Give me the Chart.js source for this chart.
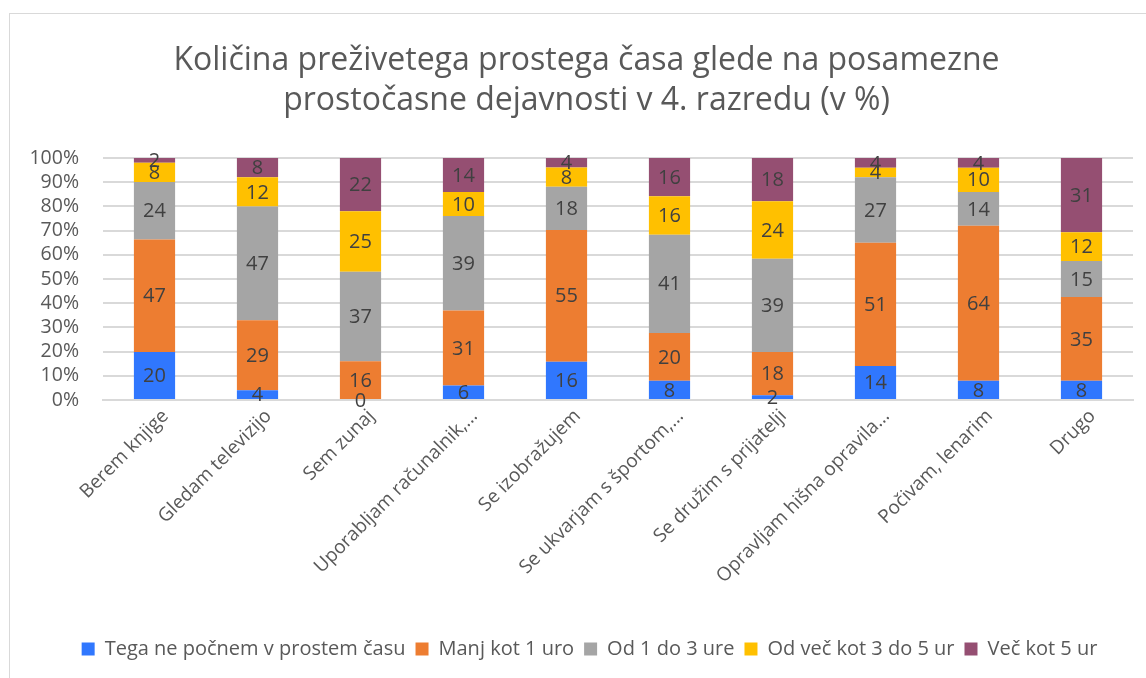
<!DOCTYPE html>
<html>
<head>
<meta charset="utf-8">
<script src="https://cdn.jsdelivr.net/npm/chart.js@4"></script>
<style>
    html, body { margin: 0; padding: 0; background: #fff; overflow: hidden; }
    .frame {
        position: absolute; left: 9px; top: 13px;
        width: 1160px; height: 700px;
        border: 1px solid #d9d9d9;
    }
    .wrap { position: absolute; left: 0; top: 0; width: 1137px; height: 665px; }
</style>
</head>
<body>
<div class="frame"><div class="wrap"><canvas id="chart"></canvas></div></div>
<script>
// Data
const categories = [
    'Berem knjige', 'Gledam televizijo', 'Sem zunaj', 'Uporabljam računalnik,...',
    'Se izobražujem', 'Se ukvarjam s športom,...', 'Se družim s prijatelji',
    'Opravljam hišna opravila...', 'Počivam, lenarim', 'Drugo'
];
const seriesNames = [
    'Tega ne počnem v prostem času', 'Manj kot 1 uro', 'Od 1 do 3 ure',
    'Od več kot 3 do 5 ur', 'Več kot 5 ur'
];
const neverVals   = [20, 4, 0, 6, 16, 8, 2, 14, 8, 8];
const under1Vals  = [47, 29, 16, 31, 55, 20, 18, 51, 64, 35];
const oneTo3Vals  = [24, 47, 37, 39, 18, 41, 39, 27, 14, 15];
const threeTo5Vals = [8, 12, 25, 10, 8, 16, 24, 4, 10, 12];
const over5Vals   = [2, 8, 22, 14, 4, 16, 18, 4, 4, 31];
const yTicks = [0, 10, 20, 30, 40, 50, 60, 70, 80, 90, 100];

const colors = ['#3077FE', '#ED7D31', '#A5A5A5', '#FFC000', '#954F72'];
const raw = [neverVals, under1Vals, oneTo3Vals, threeTo5Vals, over5Vals];

// 100% stacked: share of each column total
const totals = categories.map((_, i) => raw.reduce((s, arr) => s + arr[i], 0));

const TEXT = '#595959';
const FONT = "'Open Sans', sans-serif";

// simple value labels in the middle of each segment
const segLabels = {
    id: 'segLabels',
    afterDatasetsDraw(chart) {
        const ctx = chart.ctx;
        ctx.save();
        ctx.font = `20px ${FONT}`;
        ctx.fillStyle = '#404040';
        ctx.textAlign = 'center';
        ctx.textBaseline = 'middle';
        chart.data.datasets.forEach((ds, di) => {
            chart.getDatasetMeta(di).data.forEach((bar, i) => {
                const p = bar.getProps(['x', 'y', 'base'], true);
                ctx.fillText(String(ds.rawValues[i]), p.x, (p.y + p.base) / 2 + 1);
            });
        });
        ctx.restore();
    }
};

// title and legend sit a bit right of the canvas centre in the original
const nudge = {
    id: 'nudge',
    afterLayout(chart) {
        const t = chart.titleBlock, l = chart.legend;
        if (t) { t.left += 15; t.right += 15; }
        if (l) { l.left += 18; l.right += 18; }
    }
};

new Chart(document.getElementById('chart'), {
    type: 'bar',
    data: {
        labels: categories,
        datasets: raw.map((vals, k) => ({
            label: seriesNames[k],
            data: vals.map((v, i) => v / totals[i] * 100),
            rawValues: vals,
            backgroundColor: colors[k],
            borderWidth: 0,
            barPercentage: 0.4,
            categoryPercentage: 1.0
        }))
    },
    options: {
        responsive: true,
        maintainAspectRatio: false,
        animation: false,
        layout: { padding: { top: 27, right: 14, bottom: 10, left: 0 } },
        plugins: {
            title: {
                display: true,
                text: ['Količina preživetega prostega časa glede na posamezne', 'prostočasne dejavnosti v 4. razredu (v %)'],
                color: TEXT,
                font: { family: FONT, size: 32, weight: '400', lineHeight: 1.25 },
                padding: { top: 0, bottom: 37 }
            },
            legend: {
                position: 'bottom',
                labels: {
                    color: TEXT,
                    font: { family: FONT, size: 20 },
                    boxWidth: 13,
                    boxHeight: 13,
                    padding: 10
                }
            },
            tooltip: { enabled: false }
        },
        scales: {
            x: {
                stacked: true,
                grid: { display: false },
                border: { color: '#d9d9d9', width: 2 },
                ticks: {
                    color: TEXT,
                    font: { family: FONT, size: 19 },
                    minRotation: 45,
                    maxRotation: 45,
                    autoSkip: false,
                    padding: -3,
                    labelOffset: 11
                },
                afterFit: s => { s.height = 229; }
            },
            y: {
                stacked: true,
                min: 0,
                max: 100,
                afterBuildTicks: s => { s.ticks = yTicks.map(v => ({ value: v })); },
                grid: { color: '#d9d9d9', lineWidth: 2, drawTicks: false },
                border: { display: false },
                ticks: {
                    color: TEXT,
                    font: { family: FONT, size: 19.5 },
                    padding: 24,
                    autoSkip: false,
                    callback: v => v + '%'
                },
                afterFit: s => { s.width = 93; }
            }
        }
    },
    plugins: [segLabels, nudge]
});
</script>
</body>
</html>
